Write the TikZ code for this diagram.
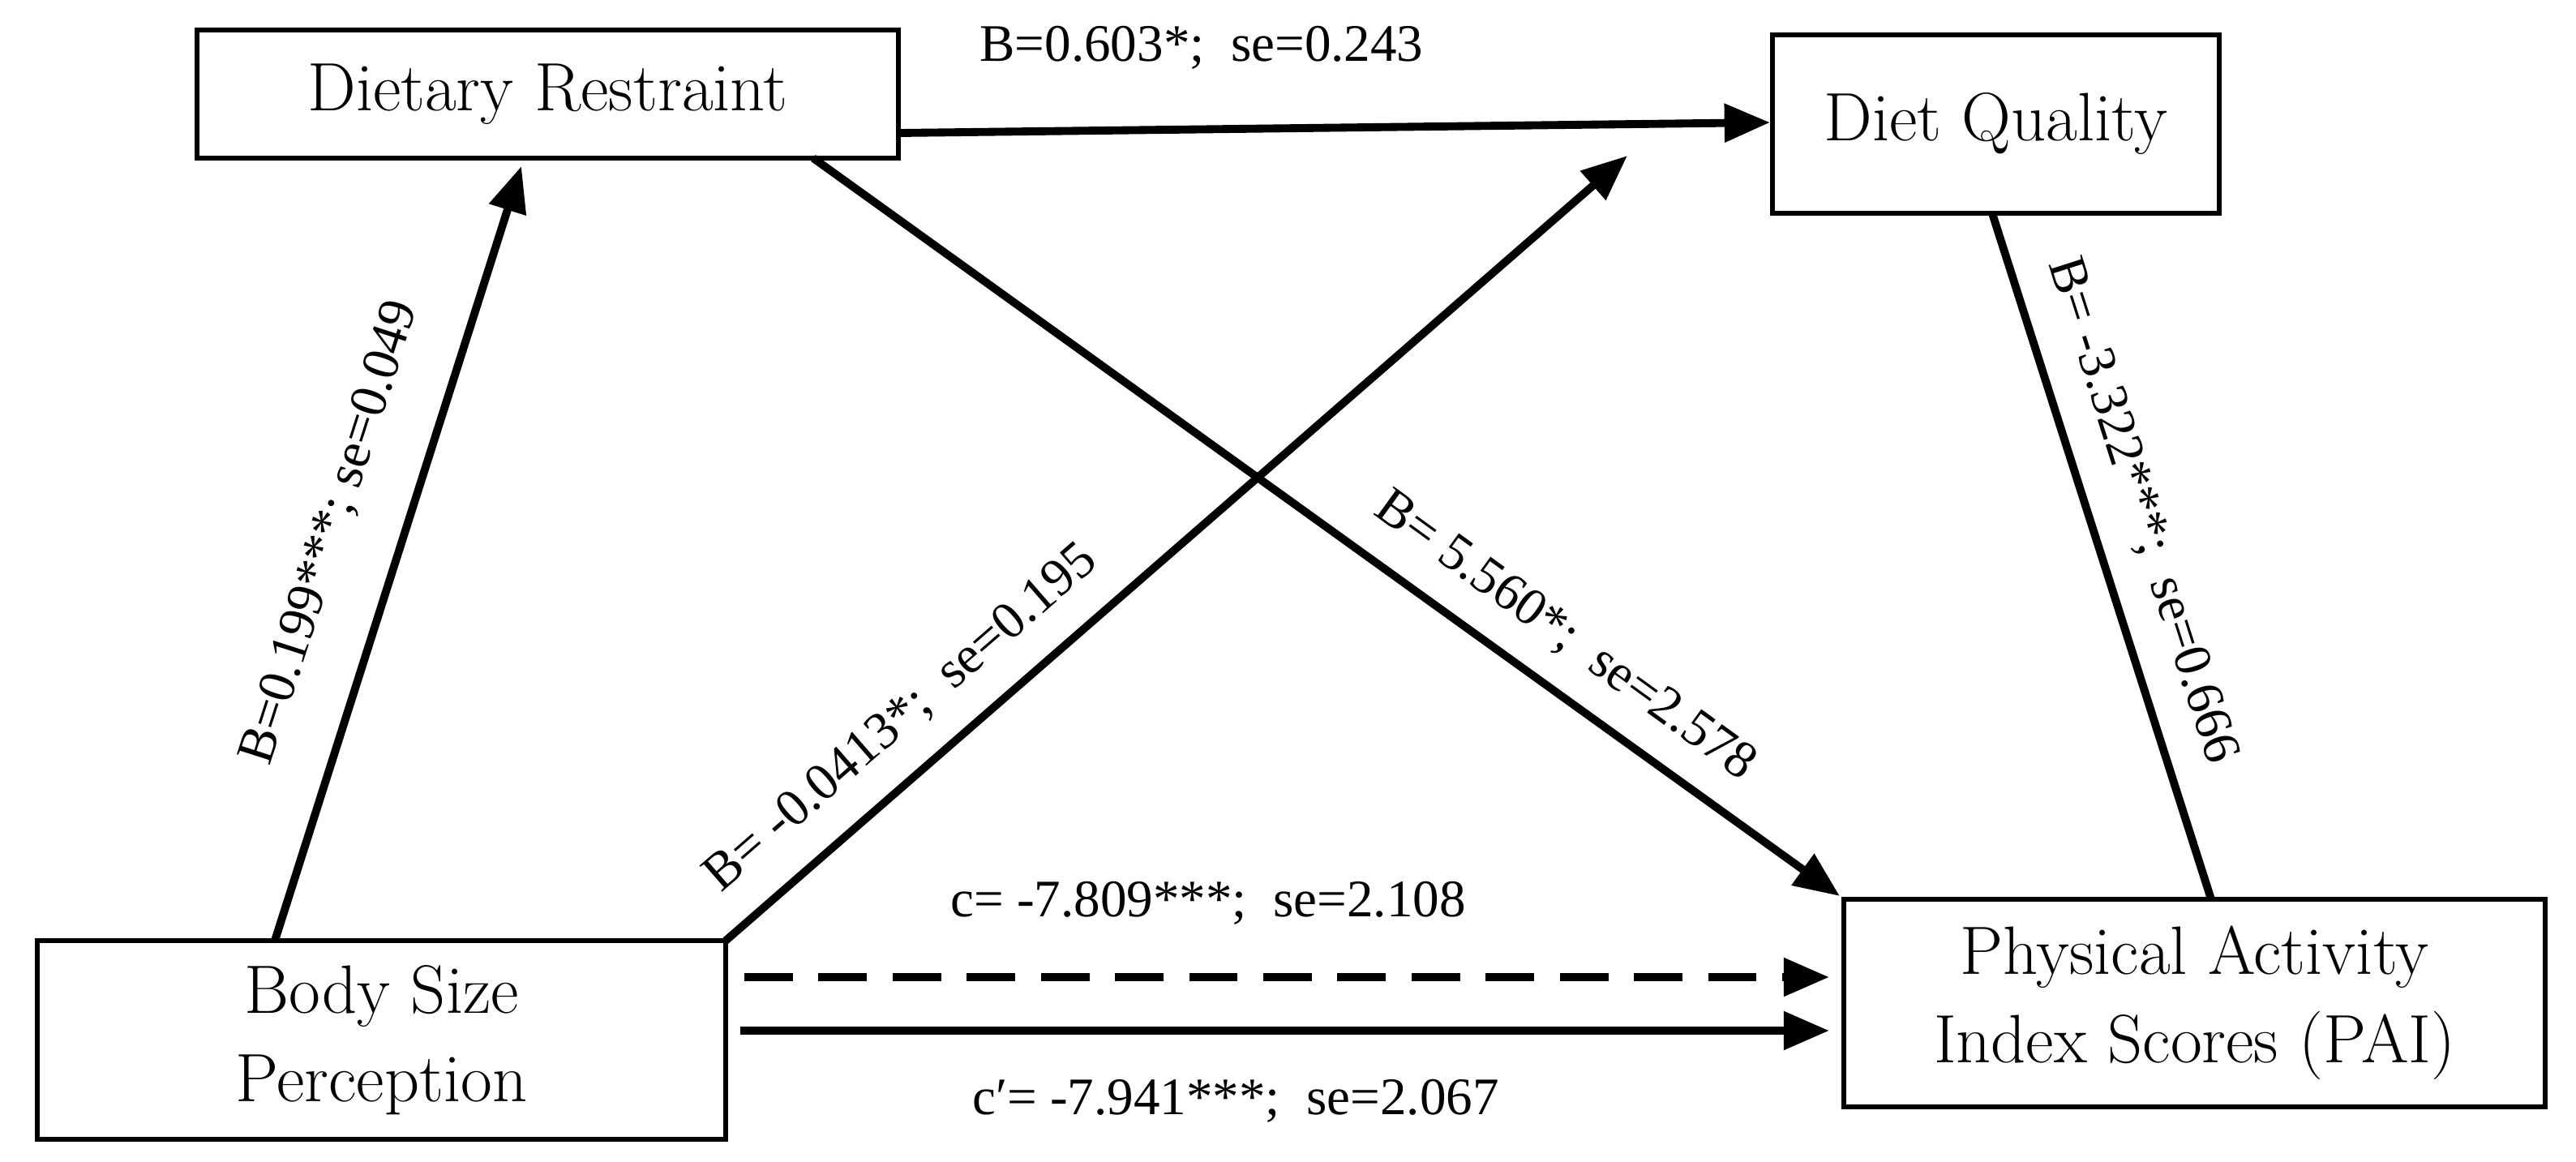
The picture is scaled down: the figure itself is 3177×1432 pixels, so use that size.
\documentclass[tikz,border=0pt]{standalone}
\usepackage{fontspec}
\newfontfamily\lab{Liberation Serif}
\usetikzlibrary{arrows.meta}
\begin{document}
\begin{tikzpicture}[x=0.01cm,y=-0.01cm,
  box/.style={draw,line width=1.6pt,align=center,inner sep=0pt,font=\fontsize{24}{31}\selectfont},
  conn/.style={line width=2.8pt,-{Triangle[length=16pt,width=13pt]}},
  plain/.style={line width=2.8pt},
  lbl/.style={font=\lab\fontsize{18.5}{22}\selectfont,inner sep=0pt}]
\useasboundingbox (0,0) rectangle (3177,1432);
\node[box,minimum width=8.65cm,minimum height=1.58cm] (dr) at (675.5,116) {Dietary Restraint};
\node[box,minimum width=5.51cm,minimum height=2.2cm] (dq) at (2461.5,153) {Diet Quality};
\node[box,minimum width=8.49cm,minimum height=2.45cm] (bs) at (470.5,1282.5) {Body Size\\Perception};
\node[box,minimum width=8.65cm,minimum height=2.56cm] (pai) at (2706.5,1237) {Physical Activity\\Index Scores (PAI)};
\coordinate (a1) at (1108,164); \coordinate (a2) at (2183,151);
\coordinate (b1) at (339,1160); \coordinate (b2) at (643,205);
\coordinate (c1) at (895,1160); \coordinate (c2) at (2007,192);
\coordinate (d1) at (1003,195); \coordinate (d2) at (2269,1105);
\coordinate (e1) at (2457,263); \coordinate (e2) at (2727,1109);
\coordinate (f1) at (918,1205); \coordinate (f2) at (2256,1205);
\coordinate (g1) at (913,1271); \coordinate (g2) at (2256,1271);
\draw[conn] (a1) -- (a2);
\draw[conn] (b1) -- (b2);
\draw[conn] (c1) -- (c2);
\draw[conn] (d1) -- (d2);
\draw[plain] (e1) -- (e2);
\draw[conn,dash pattern=on 17pt off 9pt] (f1) -- (f2);
\draw[conn] (g1) -- (g2);
\node[lbl] (la) at (1482,59) {B=0.603*;\ \ se=0.243};
\node[lbl,rotate=72.2] (lb) at (408,657) {B=0.199***; se=0.049};
\node[lbl,rotate=41] (lc) at (1112,886) {B= -0.0413*;\ \ se=0.195};
\node[lbl,rotate=-35.9] (ld) at (1930,785) {B= 5.560*;\ \ se=2.578};
\node[lbl,rotate=-72.3] (le) at (2641,630) {B= -3.322***;\ \ se=0.666};
\node[lbl] (lf) at (1490,1114) {c= -7.809***;\ \ se=2.108};
\node[lbl] (lg) at (1524,1358) {c′= -7.941***;\ \ se=2.067};
\end{tikzpicture}
\end{document}
